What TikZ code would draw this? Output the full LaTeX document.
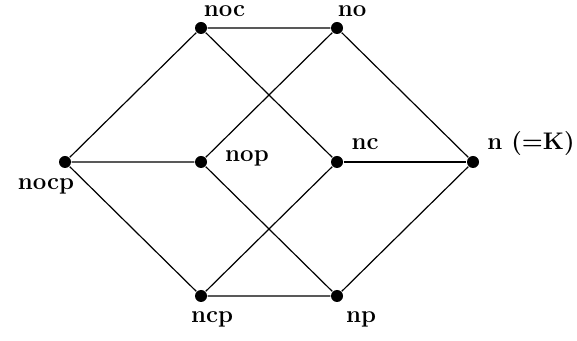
\documentclass[tikz,border=0pt]{standalone}
\begin{document}
\begin{tikzpicture}[x=68pt, y=67pt, line width=0.6pt,
		dot/.style={circle,fill,inner sep=0pt,minimum size=6pt},
		every label/.style={font=\large\bfseries,inner sep=0pt}
		]
	\useasboundingbox (-32.5pt,-89.5pt) rectangle (256pt,81pt);
	\node [dot,label={[xshift=-9.5pt,yshift=-12pt]center:nocp}] (nocp) at (0,0) {};
	\node [dot,label={[xshift=11.75pt,yshift=8.5pt]center:noc}] (noc) at (1,1) {};
	\node [dot,label={[xshift=7.5pt,yshift=8.5pt]center:no}] (no) at (2,1) {};
	\node [dot,label={[xshift=23pt,yshift=1.75pt]center:nop}] (nop) at (1,0) {};
	\node [dot,label={[xshift=14pt,yshift=9pt]center:nc}] (nc) at (2,0) {};
	\node [dot,label={[xshift=29pt,yshift=9pt]center:{n (=K)}}] (n) at (3,0) {};
	\node [dot,label={[xshift=5.5pt,yshift=-11.5pt]center:ncp}] (ncp) at (1,-1) {};
	\node [dot,label={[xshift=12pt,yshift=-11.5pt]center:np}] (np) at (2,-1) {};
	\draw (nocp) -- (noc) -- (no) -- (n) -- (np) -- (ncp) -- (nocp);
	\draw (nocp) -- (nop) -- (np);
	\draw (noc) -- (nc) -- (ncp);
	\draw (no) -- (nop);
	\draw (nc) -- (n);
\end{tikzpicture}
\end{document}
